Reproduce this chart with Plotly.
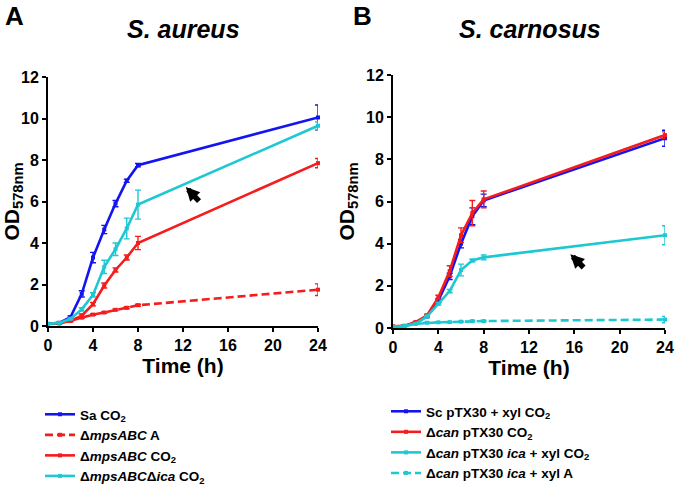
import plotly.graph_objects as go

# ---------------- data ----------------
time_h = [0, 1, 2, 3, 4, 5, 6, 7, 8, 24]

# Panel A: S. aureus
a_sa_co2 = [0.10, 0.15, 0.43, 1.55, 3.30, 4.65, 5.90, 7.00, 7.75, 10.05]
a_sa_co2_err = [0.02, 0.03, 0.05, 0.15, 0.25, 0.20, 0.15, 0.08, 0.08, 0.60]
a_mps_a = [0.10, 0.15, 0.25, 0.40, 0.55, 0.65, 0.78, 0.88, 1.00, 1.75]
a_mps_a_err = [0.02, 0.02, 0.03, 0.03, 0.04, 0.04, 0.04, 0.05, 0.05, 0.28]
a_mps_co2 = [0.10, 0.12, 0.25, 0.50, 1.05, 1.95, 2.70, 3.30, 4.00, 7.85]
a_mps_co2_err = [0.02, 0.02, 0.04, 0.08, 0.08, 0.12, 0.10, 0.12, 0.32, 0.22]
a_mpsica_co2 = [0.10, 0.15, 0.35, 0.80, 1.50, 2.85, 3.70, 4.70, 5.85, 9.65]
a_mpsica_co2_err = [0.02, 0.02, 0.04, 0.08, 0.10, 0.32, 0.30, 0.50, 0.70, 0.18]

# Panel B: S. carnosus
b_sc_co2 = [0.05, 0.10, 0.25, 0.55, 1.30, 2.45, 4.00, 5.30, 6.05, 9.00]
b_sc_co2_err = [0.02, 0.02, 0.03, 0.05, 0.10, 0.15, 0.20, 0.40, 0.30, 0.38]
b_can_co2 = [0.08, 0.10, 0.28, 0.60, 1.45, 2.70, 4.40, 5.45, 6.10, 9.15]
b_can_co2_err = [0.02, 0.02, 0.03, 0.05, 0.10, 0.25, 0.35, 0.60, 0.40, 0.15]
b_canica_co2 = [0.05, 0.08, 0.20, 0.55, 1.15, 1.75, 2.75, 3.20, 3.35, 4.40]
b_canica_co2_err = [0.02, 0.02, 0.03, 0.04, 0.06, 0.08, 0.28, 0.06, 0.12, 0.45]
b_canica_a = [0.05, 0.10, 0.20, 0.25, 0.27, 0.28, 0.30, 0.33, 0.33, 0.40]
b_canica_a_err = [0.02, 0.02, 0.02, 0.02, 0.02, 0.02, 0.02, 0.03, 0.03, 0.15]

x_ticks = [0, 4, 8, 12, 16, 20, 24]
y_ticks = [0, 2, 4, 6, 8, 10, 12]

BLUE = "#1414f0"
RED = "#f41c1c"
CYAN = "#1ec8d2"

series_a = [
    ("Sa CO<sub>2</sub>", a_sa_co2, a_sa_co2_err, BLUE, "solid"),
    ("Δ<i>mpsABC</i> A", a_mps_a, a_mps_a_err, RED, "8px,4px"),
    ("Δ<i>mpsABC</i> CO<sub>2</sub>", a_mps_co2, a_mps_co2_err, RED, "solid"),
    ("Δ<i>mpsABC</i>Δ<i>ica</i> CO<sub>2</sub>", a_mpsica_co2, a_mpsica_co2_err, CYAN, "solid"),
]
series_b = [
    ("Sc pTX30 + xyl CO<sub>2</sub>", b_sc_co2, b_sc_co2_err, BLUE, "solid"),
    ("Δ<i>can</i> pTX30 CO<sub>2</sub>", b_can_co2, b_can_co2_err, RED, "solid"),
    ("Δ<i>can</i> pTX30 <i>ica</i> + xyl CO<sub>2</sub>", b_canica_co2, b_canica_co2_err, CYAN, "solid"),
    ("Δ<i>can</i> pTX30 <i>ica</i> + xyl A", b_canica_a, b_canica_a_err, CYAN, "8px,4px"),
]

FONT = "Liberation Sans, Arial, sans-serif"

fig = go.Figure()

def add_series(series, xa, ya, legend):
    for name, vals, errs, col, dash in series:
        fig.add_trace(go.Scatter(
            x=time_h, y=vals, name="<b>" + name + "</b>",
            mode="lines+markers",
            line=dict(color=col, width=2.6, dash=dash),
            marker=dict(color=col, size=4, symbol="square"),
            error_y=dict(type="data", array=errs, visible=True,
                         color=col, thickness=1.4, width=3),
            xaxis=xa, yaxis=ya, legend=legend, cliponaxis=False,
        ))

add_series(series_a, "x", "y", "legend")
add_series(series_b, "x2", "y2", "legend2")

axis_common = dict(
    showline=True, linecolor="black", linewidth=2,
    ticks="outside", ticklen=4, tickwidth=2, tickcolor="black",
    showgrid=False, zeroline=False, automargin=False,
    tickfont=dict(family=FONT, size=16, color="black", weight="bold"),
)

title_font = dict(family=FONT, size=21, color="black", weight="bold")
legend_font = dict(family=FONT, size=13.5, color="black")

fig.update_layout(
    width=675, height=485,
    margin=dict(l=0, r=0, t=0, b=0, autoexpand=False),
    paper_bgcolor="white", plot_bgcolor="white",
    showlegend=True,
    xaxis=dict(domain=[48/675, 318/675], range=[0, 24], tickvals=x_ticks,
               anchor="y", title=dict(text="<b>Time (h)</b>", font=title_font, standoff=1),
               **axis_common),
    yaxis=dict(domain=[1-326/485, 1-77/485], range=[0, 12], tickvals=y_ticks,
               anchor="x", title=dict(text="<b>OD<sub>578nm</sub></b>", font=title_font, standoff=6),
               **axis_common),
    xaxis2=dict(domain=[393/675, 665/675], range=[0, 24], tickvals=x_ticks,
                anchor="y2", title=dict(text="<b>Time (h)</b>", font=title_font, standoff=1),
                **axis_common),
    yaxis2=dict(domain=[1-328/485, 1-75/485], range=[0, 12], tickvals=y_ticks,
                anchor="x2", title=dict(text="<b>OD<sub>578nm</sub></b>", font=title_font, standoff=6),
                **axis_common),
    legend=dict(x=40/675, y=1-399/485, xanchor="left", yanchor="top",
                font=legend_font, bgcolor="rgba(0,0,0,0)",
                tracegroupgap=0, itemwidth=30),
    legend2=dict(x=386/675, y=1-396/485, xanchor="left", yanchor="top",
                 font=legend_font, bgcolor="rgba(0,0,0,0)",
                 tracegroupgap=0, itemwidth=30),
)

# panel letters and titles
for txt, xp, yp, size in [
    ("<b>A</b>", 14/675, 1-16/485, 26),
    ("<b>B</b>", 362/675, 1-16/485, 26),
    ("<b><i>S. aureus</i></b>", 183/675, 1-29/485, 25),
    ("<b><i>S. carnosus</i></b>", 530/675, 1-29/485, 25),
]:
    fig.add_annotation(text=txt, x=xp, y=yp, xref="paper", yref="paper",
                       xanchor="center", yanchor="middle", showarrow=False,
                       font=dict(family=FONT, size=size, color="black"))

# arrows
fig.add_annotation(x=12.25, y=6.7, ax=13.55, ay=5.95, xref="x", yref="y",
                   axref="x", ayref="y", text="", showarrow=True,
                   arrowhead=2, arrowsize=0.5, arrowwidth=5.5, arrowcolor="black")
fig.add_annotation(x=15.65, y=3.5, ax=16.95, ay=2.8, xref="x2", yref="y2",
                   axref="x2", ayref="y2", text="", showarrow=True,
                   arrowhead=2, arrowsize=0.5, arrowwidth=5.5, arrowcolor="black")

fig.write_html(
    "out.html",
    config={"displayModeBar": False},
    post_script="document.body.style.margin='0';document.body.style.padding='0';"
                "document.body.style.overflow='hidden';",
)
